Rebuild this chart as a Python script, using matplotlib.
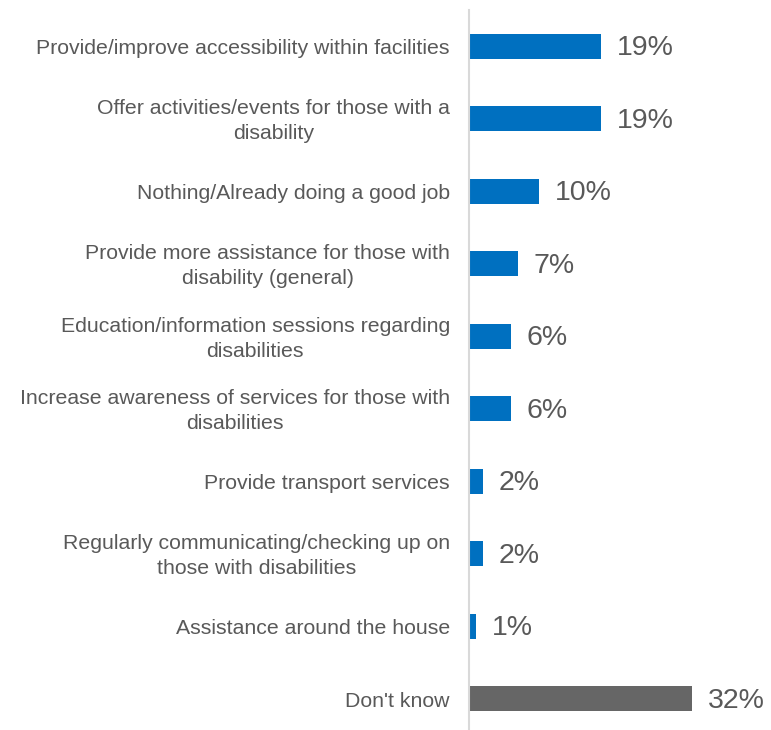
import matplotlib.pyplot as plt
import matplotlib.transforms as mtransforms

labels = [
    "Provide/improve accessibility within facilities",
    "Offer activities/events for those with a\ndisability",
    "Nothing/Already doing a good job",
    "Provide more assistance for those with\ndisability (general)",
    "Education/information sessions regarding\ndisabilities",
    "Increase awareness of services for those with\ndisabilities",
    "Provide transport services",
    "Regularly communicating/checking up on\nthose with disabilities",
    "Assistance around the house",
    "Don't know",
]
values = [19, 19, 10, 7, 6, 6, 2, 2, 1, 32]
colors = ["#0070C0"] * 9 + ["#666666"]

plt.rcParams['font.family'] = ['Liberation Sans', 'DejaVu Sans']
text_color = "#595959"

fig = plt.figure(figsize=(7.71, 7.30), dpi=100)
ax = fig.add_axes([469 / 771, 0, (771 - 469) / 771, 720 / 730])

ypos = list(range(len(values)))
ax.barh(ypos, values, height=0.345, color=colors, left=0)
ax.set_xlim(0, (771 - 469) / 6.96)
ax.set_ylim(9.43, -0.5)

# value labels right of the bars
for y, v in zip(ypos, values):
    ax.annotate(f"{v}%", xy=(v, y), xytext=(11.5, -1.5), textcoords="offset points",
                ha="left", va="center", fontsize=20.5, color=text_color)

# category labels, right-aligned blocks with centred lines
trans = mtransforms.blended_transform_factory(ax.transAxes, ax.transData)
offset = mtransforms.ScaledTranslation(-19 / 100, -2.5 / 100, fig.dpi_scale_trans)
for y, lab in zip(ypos, labels):
    ax.text(0, y, lab, transform=trans + offset, ha="right", va="center",
            multialignment="center", fontsize=15.3, color=text_color,
            linespacing=1.4)

for side in ["top", "right", "bottom"]:
    ax.spines[side].set_visible(False)
ax.spines["left"].set_color("#D9D9D9")
ax.spines["left"].set_linewidth(1.5)
ax.set_xticks([])
ax.set_yticks([])
ax.patch.set_alpha(0)

fig.savefig("out.png", dpi=100)
